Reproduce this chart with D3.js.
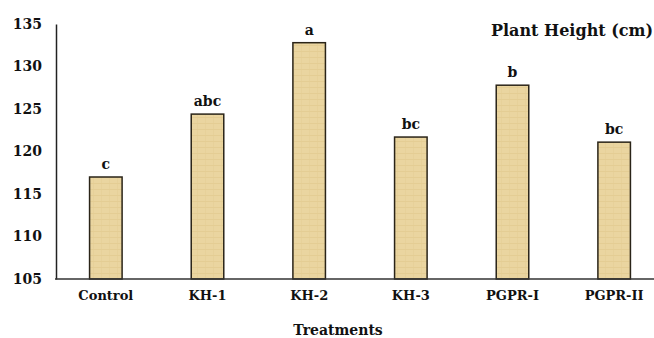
<!DOCTYPE html>
<html><head><meta charset="utf-8">
<script src="https://cdn.jsdelivr.net/npm/d3@7"></script>
<style>body{margin:0;background:#fff}svg{display:block}</style>
</head><body>
<svg id="c" width="654" height="338"></svg>
<script>
const categories = ["Control","KH-1","KH-2","KH-3","PGPR-I","PGPR-II"];
const values = [117.0, 124.4, 132.8, 121.7, 127.8, 121.1];
const letters = ["c","abc","a","bc","b","bc"];
const yTicks = [105,110,115,120,125,130,135];

const svg = d3.select("#c");
const font = "'DejaVu Serif', serif";
const defs = svg.append("defs");
const pat = defs.append("pattern").attr("id","pap").attr("patternUnits","userSpaceOnUse")
  .attr("width",8).attr("height",6);
pat.append("rect").attr("width",8).attr("height",6).attr("fill","#ead5a0");
pat.append("rect").attr("y",3).attr("width",8).attr("height",1).attr("fill","#e0c88c").attr("opacity",0.6);
pat.append("rect").attr("x",5).attr("width",1).attr("height",6).attr("fill","#e3cd94").attr("opacity",0.5);

const x = d3.scaleBand().domain(categories).range([55, 665]).paddingInner(0.68).paddingOuter(0.34);
const y = d3.scaleLinear().domain([105,135]).range([279, 24]);

// bars
svg.selectAll("rect.bar").data(values).join("rect").attr("class","bar")
  .attr("x",(d,i)=>x(categories[i])).attr("width",x.bandwidth())
  .attr("y",d=>y(d)).attr("height",d=>y(105)-y(d))
  .attr("fill","url(#pap)").attr("stroke","#2a2418").attr("stroke-width",1.5);

// letters
svg.selectAll("text.lt").data(values).join("text").attr("class","lt")
  .attr("x",(d,i)=>x(categories[i])+x.bandwidth()/2).attr("y",d=>y(d)-8)
  .attr("text-anchor","middle").attr("font-family",font).attr("font-weight","bold")
  .attr("font-size",14).attr("fill","#111").text((d,i)=>letters[i]);

// y axis
const ya = svg.append("g").attr("transform","translate(56,0)")
  .call(d3.axisLeft(y).tickValues(yTicks).tickSize(0).tickPadding(14).tickFormat(d3.format("d")));
ya.select(".domain").attr("stroke","#222").attr("stroke-width",1.5);
ya.selectAll("text").attr("font-family",font).attr("font-weight","bold").attr("font-size",14).attr("fill","#111");

// x axis
const xa = svg.append("g").attr("transform","translate(0,279)")
  .call(d3.axisBottom(x).tickSize(0).tickPadding(12));
xa.select(".domain").attr("d","M55,0H654").attr("stroke","#333").attr("stroke-width",1.5);
xa.selectAll("text").attr("font-family",font).attr("font-weight","bold").attr("font-size",13).attr("fill","#111");

svg.append("text").attr("x",338).attr("y",335).attr("text-anchor","middle")
  .attr("font-family",font).attr("font-weight","bold").attr("font-size",14).attr("fill","#111").text("Treatments");

svg.append("text").attr("x",491).attr("y",36)
  .attr("font-family",font).attr("font-weight","bold").attr("font-size",16).attr("fill","#111").text("Plant Height (cm)");
</script>
</body></html>
